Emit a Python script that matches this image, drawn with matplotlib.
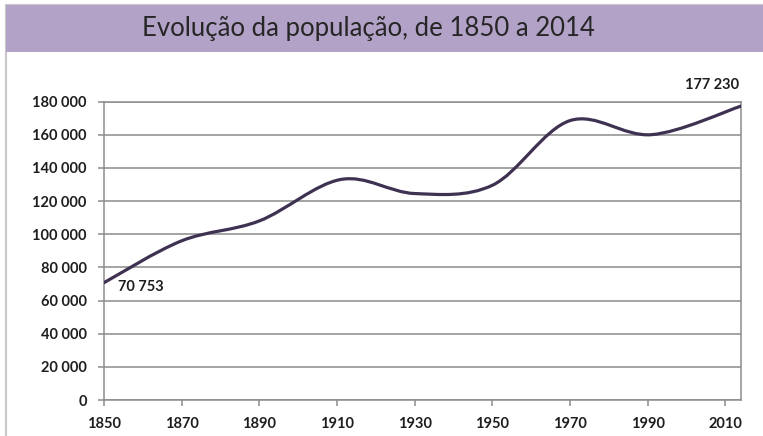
import matplotlib
matplotlib.use("Agg")
import matplotlib.pyplot as plt
from matplotlib.path import Path
from matplotlib.patches import PathPatch, Rectangle
import numpy as np

# ==========================================
# DADOS
# ==========================================
anos = [1850, 1870, 1890, 1911, 1930, 1950, 1970, 1991, 2014]
populacao = [70753, 96000, 108000, 133000, 124500, 129500, 168500, 160000, 177230]

ticks_x = [1850, 1870, 1890, 1910, 1930, 1950, 1970, 1990, 2010]
ticks_y = list(range(0, 180001, 20000))

titulo = "Evolução da população, de 1850 a 2014"

cor_linha = "#3F3151"
cor_faixa = "#B3A2C7"
cor_grelha = "#8C8C8C"
cor_texto = "#1E1E1E"

plt.rcParams['font.family'] = ['Lato', 'DejaVu Sans']


def curva_suave(xs, ys):
    # linha suavizada (estilo Excel): Bezier cúbica pelos pontos
    p = np.column_stack([xs, ys]).astype(float)
    n = len(p)
    verts = [p[0]]
    codes = [Path.MOVETO]
    for i in range(n - 1):
        ant = p[i - 1] if i > 0 else p[i]
        seg = p[i + 2] if i + 2 < n else p[i + 1]
        c1 = p[i] + (p[i + 1] - ant) / 6.0
        c2 = p[i + 1] - (seg - p[i]) / 6.0
        verts += [c1, c2, p[i + 1]]
        codes += [Path.CURVE4] * 3
    return Path(verts, codes)


fig = plt.figure(figsize=(7.63, 4.36), dpi=100)

# moldura e faixa do título
fig.patches.append(Rectangle((6 / 763, -0.1), 1.2, 1 - 5 / 436 + 0.1,
                             transform=fig.transFigure, facecolor="white",
                             edgecolor="#C8C8C8", lw=1.5, zorder=-2))
fig.patches.append(Rectangle((6 / 763, 1 - 52 / 436), 1.0, 47 / 436,
                             transform=fig.transFigure, facecolor=cor_faixa,
                             edgecolor="none", zorder=-1))
fig.text(368 / 763, 1 - 28 / 436, titulo, ha="center", va="center",
         fontsize=18.5, color="#262626", zorder=2)

ax = fig.add_axes([104 / 763, 1 - 400 / 436, (741 - 104) / 763, (400 - 101.5) / 436])
ax.set_zorder(1)
ax.set_facecolor("white")

ax.add_patch(PathPatch(curva_suave(anos, populacao), fill=False,
                       edgecolor=cor_linha, lw=2.3, capstyle="round", zorder=3))

ax.set_xlim(anos[0], anos[-1])
ax.set_ylim(0, 180000)
ax.set_xticks(ticks_x)
ax.set_yticks(ticks_y)
ax.set_yticklabels([f"{v:,}".replace(",", " ") for v in ticks_y])
ax.yaxis.grid(True, color=cor_grelha, lw=1.1)
ax.set_axisbelow(True)

for s in ax.spines.values():
    s.set_color(cor_grelha)
    s.set_linewidth(1.1)

ax.tick_params(axis="both", direction="out", color=cor_grelha, width=1.1,
               length=4.5, labelsize=10.5, labelcolor=cor_texto)
ax.tick_params(axis="y", pad=8)
ax.tick_params(axis="x", pad=8)
for lab in ax.get_xticklabels() + ax.get_yticklabels():
    lab.set_fontweight("bold")

# rótulos dos valores extremos
ax.annotate(f"{populacao[0]:,}".replace(",", " "), (anos[0], populacao[0]),
            xytext=(14, -4), textcoords="offset pixels", ha="left", va="center",
            fontsize=10.5, fontweight="bold", color=cor_texto)
ax.annotate(f"{populacao[-1]:,}".replace(",", " "), (anos[-1], populacao[-1]),
            xytext=(-2, 21), textcoords="offset pixels", ha="right", va="center",
            fontsize=10.5, fontweight="bold", color=cor_texto, annotation_clip=False)

fig.savefig("out.png", dpi=100)
